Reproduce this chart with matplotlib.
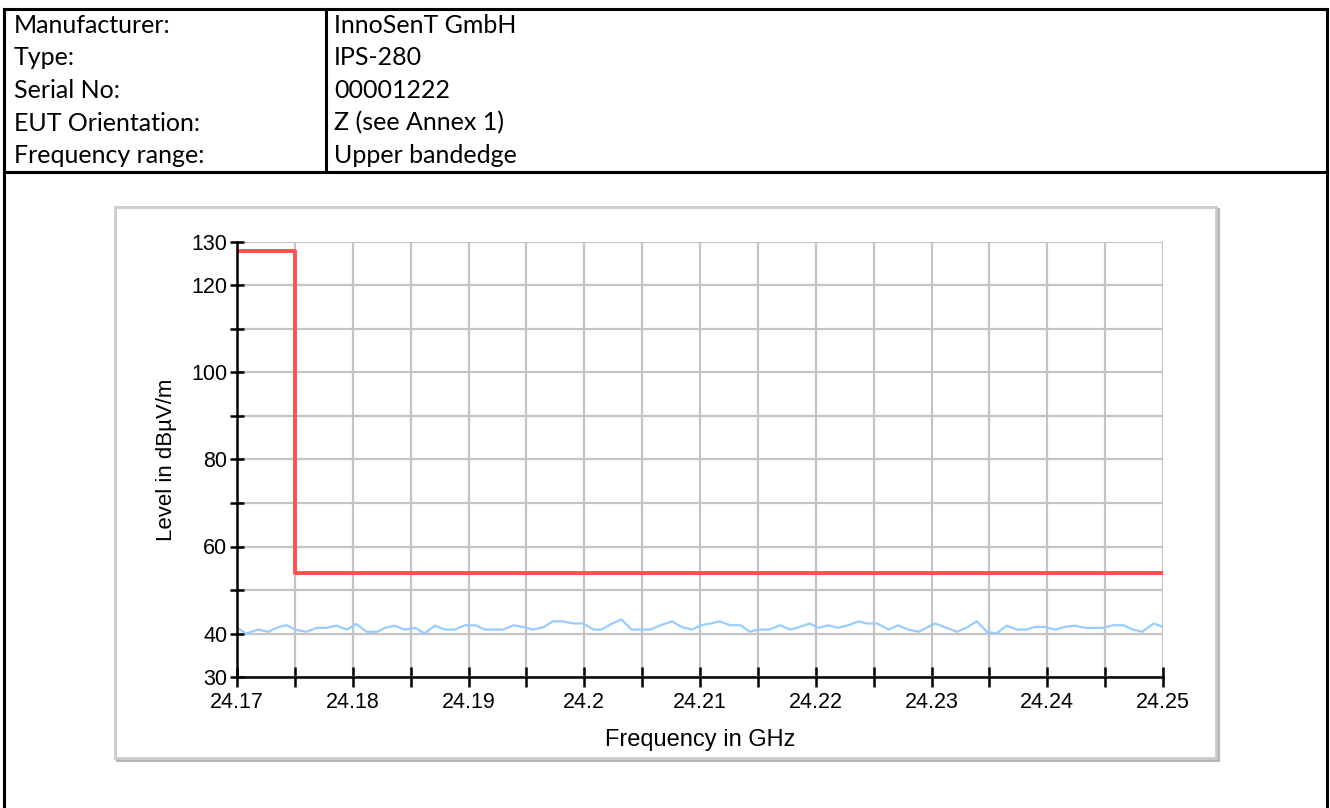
import numpy as np
import matplotlib.pyplot as plt
from matplotlib.lines import Line2D
from matplotlib.patches import Rectangle
from matplotlib.ticker import FixedLocator, FixedFormatter

W, H = 1330, 808

# header table
header_keys = ['Manufacturer:', 'Type:', 'Serial No:', 'EUT Orientation:', 'Frequency range:']
header_values = ['InnoSenT GmbH', 'IPS-280', '00001222', 'Z (see Annex 1)', 'Upper bandedge']

# limit line (step)
limit_freq = [24.17, 24.175, 24.175, 24.25]
limit_level = [128, 128, 54, 54]

# measured trace
trace_freq = [
    24.1700, 24.1708, 24.1718, 24.1727, 24.1736, 24.1743, 24.1750, 24.1760, 24.1769, 24.1777,
    24.1786, 24.1795, 24.1803, 24.1812, 24.1821, 24.1828, 24.1836, 24.1845, 24.1854, 24.1862,
    24.1871, 24.1880, 24.1888, 24.1897, 24.1906, 24.1914, 24.1922, 24.1930, 24.1939, 24.1947,
    24.1956, 24.1965, 24.1973, 24.1981, 24.1991, 24.1999, 24.2008, 24.2015, 24.2024, 24.2032,
    24.2041, 24.2049, 24.2057, 24.2065, 24.2076, 24.2084, 24.2093, 24.2101, 24.2109, 24.2117,
    24.2126, 24.2135, 24.2143, 24.2150, 24.2160, 24.2169, 24.2178, 24.2186, 24.2195, 24.2202,
    24.2211, 24.2219, 24.2228, 24.2237, 24.2244, 24.2253, 24.2263, 24.2271, 24.2280, 24.2289,
    24.2303, 24.2322, 24.2330, 24.2339, 24.2348, 24.2356, 24.2365, 24.2374, 24.2382, 24.2389,
    24.2398, 24.2407, 24.2415, 24.2424, 24.2433, 24.2440, 24.2448, 24.2457, 24.2466, 24.2474,
    24.2482, 24.2492, 24.2500,
]
trace_level = [
    41.3, 40.0, 40.9, 40.4, 41.5, 41.9, 40.9, 40.4, 41.3, 41.3,
    41.8, 40.9, 42.2, 40.4, 40.4, 41.3, 41.8, 40.9, 41.3, 40.0,
    41.8, 40.9, 40.9, 41.9, 41.9, 40.9, 40.9, 40.9, 41.9, 41.5,
    40.9, 41.5, 42.8, 42.8, 42.3, 42.3, 40.9, 40.9, 42.3, 43.2,
    40.9, 40.9, 40.9, 41.8, 42.8, 41.5, 40.9, 41.9, 42.3, 42.8,
    41.9, 41.9, 40.4, 40.9, 40.9, 41.9, 40.9, 41.5, 42.3, 41.3,
    41.9, 41.3, 41.9, 42.8, 42.3, 42.3, 40.9, 41.9, 40.9, 40.4,
    42.3, 40.4, 41.3, 42.8, 40.4, 40.0, 41.8, 40.9, 40.9, 41.5,
    41.5, 40.9, 41.5, 41.8, 41.3, 41.3, 41.3, 41.9, 41.9, 40.9,
    40.4, 42.3, 41.5,
]

x_ticks = [24.17, 24.175, 24.18, 24.185, 24.19, 24.195, 24.2, 24.205, 24.21,
           24.215, 24.22, 24.225, 24.23, 24.235, 24.24, 24.245, 24.25]
x_tick_labels = ['24.17', '', '24.18', '', '24.19', '', '24.2', '', '24.21',
                 '', '24.22', '', '24.23', '', '24.24', '', '24.25']
y_ticks = [30, 40, 50, 60, 70, 80, 90, 100, 110, 120, 130]
y_tick_labels = ['30', '40', '', '60', '', '80', '', '100', '', '120', '130']


def fx(px):
    return px / W


def fy(py):
    return 1 - py / H


fig = plt.figure(figsize=(W / 100, H / 100), dpi=100)

# page frame lines
frame_kw = dict(color='black', lw=2.2, transform=fig.transFigure)
fig.add_artist(Line2D([fx(4), fx(1327)], [fy(9), fy(9)], **frame_kw))
fig.add_artist(Line2D([fx(4), fx(1327)], [fy(172), fy(172)], **frame_kw))
fig.add_artist(Line2D([fx(4), fx(4)], [fy(9), 0], **frame_kw))
fig.add_artist(Line2D([fx(1327), fx(1327)], [fy(9), 0], **frame_kw))
fig.add_artist(Line2D([fx(326), fx(326)], [fy(9), fy(172)], **frame_kw))

row_h = (172 - 9) / len(header_keys)
for i, (k, v) in enumerate(zip(header_keys, header_values)):
    yc = fy(9 + row_h * (i + 0.5))
    fig.text(fx(14), yc, k, fontsize=18, family='Lato', va='center', ha='left')
    fig.text(fx(334), yc, v, fontsize=18, family='Lato', va='center', ha='left')

# chart box with a faint shadow on the lower/right edge (kept behind the axes)
fig.add_artist(Rectangle((fx(117), fy(760)), fx(1218) - fx(117), fy(209) - fy(760),
                         transform=fig.transFigure, fill=False, ec='#b0b0b0', lw=2, zorder=-3))
fig.add_artist(Rectangle((fx(115), fy(758)), fx(1216) - fx(115), fy(207) - fy(758),
                         transform=fig.transFigure, fc='white', ec='#cccccc', lw=2, zorder=-2))

ax = fig.add_axes([fx(237), fy(677), fx(1163) - fx(237), fy(242) - fy(677)])
ax.plot(trace_freq, trace_level, color='#99ccff', lw=1.6, zorder=3)
ax.plot(limit_freq, limit_level, color='#ff5050', lw=2.8, zorder=4)

ax.set_xlim(24.17, 24.25)
ax.set_ylim(30, 130)
ax.xaxis.set_major_locator(FixedLocator(x_ticks))
ax.xaxis.set_major_formatter(FixedFormatter(x_tick_labels))
ax.yaxis.set_major_locator(FixedLocator(y_ticks))
ax.yaxis.set_major_formatter(FixedFormatter(y_tick_labels))

ax.grid(True, color='#c4c4c4', lw=1.6, zorder=0)
ax.set_axisbelow(True)
for s in ['top', 'right']:
    ax.spines[s].set_visible(False)
for s in ['left', 'bottom']:
    ax.spines[s].set_linewidth(1.8)
    ax.spines[s].set_zorder(5)

ax.tick_params(axis='y', direction='inout', length=10, width=1.8, labelsize=15.5, pad=2)
ax.tick_params(axis='x', direction='inout', length=14, width=1.8, labelsize=15.5, pad=4)
for lab in ax.get_xticklabels() + ax.get_yticklabels():
    lab.set_family('Liberation Sans')

ax.set_xlabel('Frequency in GHz', fontsize=17, family='Liberation Sans', labelpad=11)
ax.set_ylabel('Level in dBµV/m', fontsize=16, family='Liberation Sans', labelpad=10)

fig.savefig('out.png', dpi=100)
